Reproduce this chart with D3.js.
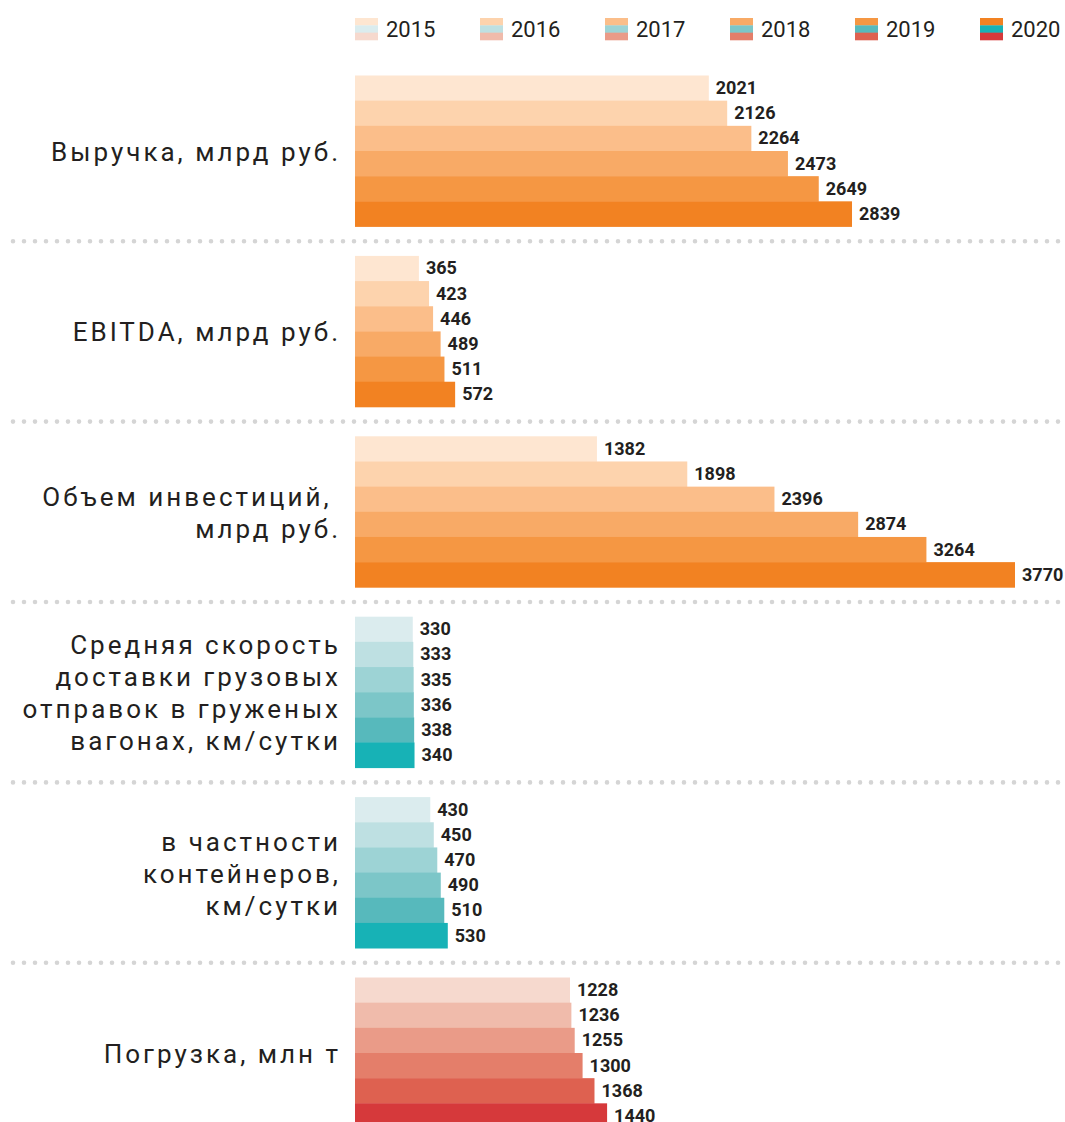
<!DOCTYPE html>
<html>
<head>
<meta charset="utf-8">
<script src="https://cdn.jsdelivr.net/npm/d3@7"></script>
<style>
  html, body { margin: 0; padding: 0; background: #fff; }
  svg { display: block; }
</style>
</head>
<body>
<svg id="chart" width="1065" height="1122"></svg>
<script>
const years = ["2015", "2016", "2017", "2018", "2019", "2020"];

const categoryLabels = [
  ["Выручка, млрд руб."],
  ["EBITDA, млрд руб."],
  ["Объем инвестиций,\u00a0", "млрд руб."],
  ["Средняя скорость", "доставки грузовых", "отправок в груженых", "вагонах, км/сутки"],
  ["в частности", "контейнеров,", "км/сутки"],
  ["Погрузка, млн т"]
];

const revenue        = [2021, 2126, 2264, 2473, 2649, 2839];
const ebitda         = [365, 423, 446, 489, 511, 572];
const investment     = [1382, 1898, 2396, 2874, 3264, 3770];
const deliverySpeed  = [330, 333, 335, 336, 338, 340];
const containerSpeed = [430, 450, 470, 490, 510, 530];
const loading        = [1228, 1236, 1255, 1300, 1368, 1440];

const orangePalette = ["#fee6d1", "#fdd3ad", "#fbbe8a", "#f8aa66", "#f59743", "#f28222"];
const tealPalette   = ["#dbecee", "#bee0e2", "#9dd3d5", "#7cc6c8", "#57b9bc", "#17b2b6"];
const redPalette    = ["#f6d9ce", "#f0bbab", "#ea9b88", "#e47e6a", "#de6150", "#d6393b"];

const seriesList = [revenue, ebitda, investment, deliverySpeed, containerSpeed, loading];
const paletteList = [orangePalette, orangePalette, orangePalette, tealPalette, tealPalette, redPalette];

const groups = seriesList.map((values, i) => ({
  id: i, lines: categoryLabels[i], values, palette: paletteList[i]
}));

const svg = d3.select("#chart");
const textColor = "#231f20";

const x = d3.scaleLinear().domain([0, 3770]).range([355, 1015]);
const yGroup = d3.scaleBand()
  .domain(groups.map(g => g.id))
  .range([75.5, 1128.5])
  .paddingInner(0.163)
  .paddingOuter(0);
const yYear = d3.scaleBand().domain(years).range([0, yGroup.bandwidth()]).padding(0);

// Legend
const legend = svg.append("g");
years.forEach((yr, i) => {
  const lx = 355 + i * 125;
  const g = legend.append("g").attr("transform", `translate(${lx},18)`);
  [orangePalette, tealPalette, redPalette].forEach((pal, k) => {
    g.append("rect").attr("x", 0).attr("y", k * 22 / 3).attr("width", 23).attr("height", 22 / 3 + 0.3)
      .attr("fill", pal[i]);
  });
  g.append("text").attr("x", 31).attr("y", 11).attr("dominant-baseline", "central")
    .attr("font-family", "Roboto, 'Open Sans', sans-serif").attr("font-size", 22)
    .attr("fill", textColor).text(yr);
});

// Separators (dotted)
const sepY = d3.range(groups.length - 1).map(i =>
  (yGroup(i) + yGroup.bandwidth() + yGroup(i + 1)) / 2);
svg.append("g").selectAll("line").data(sepY).join("line")
  .attr("x1", 13).attr("x2", 1070)
  .attr("y1", d => d).attr("y2", d => d)
  .attr("stroke", "#d5d5d5").attr("stroke-width", 4.6)
  .attr("stroke-linecap", "round").attr("stroke-dasharray", "0 11");

// Groups
const gg = svg.append("g").selectAll("g.grp").data(groups).join("g")
  .attr("class", "grp")
  .attr("transform", d => `translate(0,${yGroup(d.id)})`);

gg.each(function(d) {
  const g = d3.select(this);
  const rows = d.values.map((v, j) => ({ v, yr: years[j], color: d.palette[j] }));
  g.selectAll("rect").data(rows).join("rect")
    .attr("x", x(0))
    .attr("y", r => yYear(r.yr))
    .attr("width", r => x(r.v) - x(0))
    .attr("height", yYear.bandwidth() + 0.4)
    .attr("fill", r => r.color);
  g.selectAll("text.val").data(rows).join("text")
    .attr("class", "val")
    .attr("x", r => x(r.v) + 7)
    .attr("y", r => yYear(r.yr) + yYear.bandwidth() / 2 - 0.5)
    .attr("dominant-baseline", "central")
    .attr("font-family", "Roboto, sans-serif").attr("font-weight", 700)
    .attr("font-size", 18).attr("fill", textColor)
    .text(r => r.v);

  const n = d.lines.length, lh = 32;
  const cy = yGroup.bandwidth() / 2 + 1;
  g.selectAll("text.cat").data(d.lines).join("text")
    .attr("class", "cat")
    .attr("x", 341)
    .attr("y", (t, k) => cy + (k - (n - 1) / 2) * lh)
    .attr("text-anchor", "end")
    .attr("dominant-baseline", "central")
    .attr("font-family", "Roboto, 'Open Sans', sans-serif")
    .attr("font-size", 26).attr("letter-spacing", 3)
    .attr("fill", textColor)
    .style("white-space", "pre")
    .text(t => t);
});
</script>
</body>
</html>
